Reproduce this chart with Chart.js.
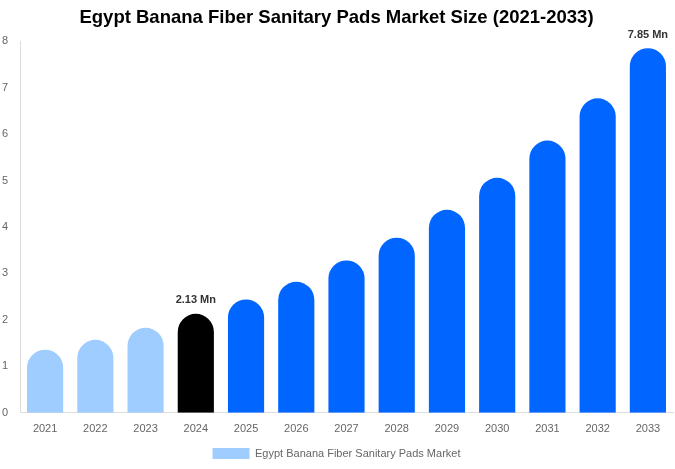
<!DOCTYPE html>
<html>
<head>
<meta charset="utf-8">
<script src="https://cdn.jsdelivr.net/npm/chart.js@4.4.1/dist/chart.umd.min.js"></script>
<style>
  html, body { margin: 0; padding: 0; background: #fff; }
  #wrap { width: 675px; height: 469px; position: relative; }
</style>
</head>
<body>
<div id="wrap"><canvas id="marketChart"></canvas></div>
<script>
const years = ['2021','2022','2023','2024','2025','2026','2027','2028','2029','2030','2031','2032','2033'];
const marketSize = [1.36, 1.57, 1.83, 2.13, 2.44, 2.82, 3.28, 3.77, 4.37, 5.06, 5.86, 6.77, 7.85];
const barColors = ['#9fcdff','#9fcdff','#9fcdff','#000000','#0066ff','#0066ff','#0066ff','#0066ff','#0066ff','#0066ff','#0066ff','#0066ff','#0066ff'];
const labelled = [3, 12];
const yTicks = [0,1,2,3,4,5,6,7,8];

// value labels only on 2024 and 2033
const valueLabels = {
  id: 'valueLabels',
  afterDatasetsDraw(chart) {
    const ctx = chart.ctx;
    const meta = chart.getDatasetMeta(0);
    ctx.save();
    ctx.font = 'bold 11px "Liberation Sans", Arial, sans-serif';
    ctx.fillStyle = '#333';
    ctx.textAlign = 'center';
    ctx.textBaseline = 'bottom';
    labelled.forEach(function(i) {
      let bar = meta.data[i];
      ctx.fillText(marketSize[i].toFixed(2) + ' Mn', bar.x, bar.y - 8);
    });
    ctx.restore();
  }
};

let chart = new Chart(document.getElementById('marketChart'), {
  type: 'bar',
  data: {
    labels: years,
    datasets: [{
      label: 'Egypt Banana Fiber Sanitary Pads Market',
      data: marketSize,
      backgroundColor: barColors,
      borderRadius: 100,
      borderSkipped: 'start',
      barPercentage: 0.72,
      categoryPercentage: 1
    }]
  },
  options: {
    responsive: true,
    maintainAspectRatio: false,
    animation: false,
    layout: { padding: { left: 0, right: 2, top: 5, bottom: 0 } },
    scales: {
      x: {
        grid: { display: false, drawTicks: false },
        border: { display: true, color: '#dddddd' },
        ticks: {
          color: '#666',
          padding: 10,
          font: { family: '"Liberation Sans", Arial, sans-serif', size: 11 }
        }
      },
      y: {
        min: 0,
        max: 8,
        afterBuildTicks: function(axis) {
          axis.ticks = yTicks.map(function(v) { return { value: v }; });
        },
        afterFit: function(axis) {
          axis.width = 20;
        },
        grid: { display: false, drawTicks: false },
        border: { display: true, color: '#dddddd' },
        ticks: {
          color: '#666',
          padding: 12,
          font: { family: '"Liberation Sans", Arial, sans-serif', size: 11 }
        }
      }
    },
    plugins: {
      title: {
        display: true,
        text: 'Egypt Banana Fiber Sanitary Pads Market Size (2021-2033)',
        color: '#000',
        font: { family: '"Liberation Sans", Arial, sans-serif', size: 18.5, weight: 'bold' },
        padding: { top: 2, bottom: 12 }
      },
      legend: {
        position: 'bottom',
        labels: {
          boxWidth: 37,
          boxHeight: 11,
          color: '#666',
          padding: 2,
          font: { family: '"Liberation Sans", Arial, sans-serif', size: 11 }
        }
      },
      tooltip: { enabled: false }
    }
  },
  plugins: [valueLabels]
});
</script>
</body>
</html>
